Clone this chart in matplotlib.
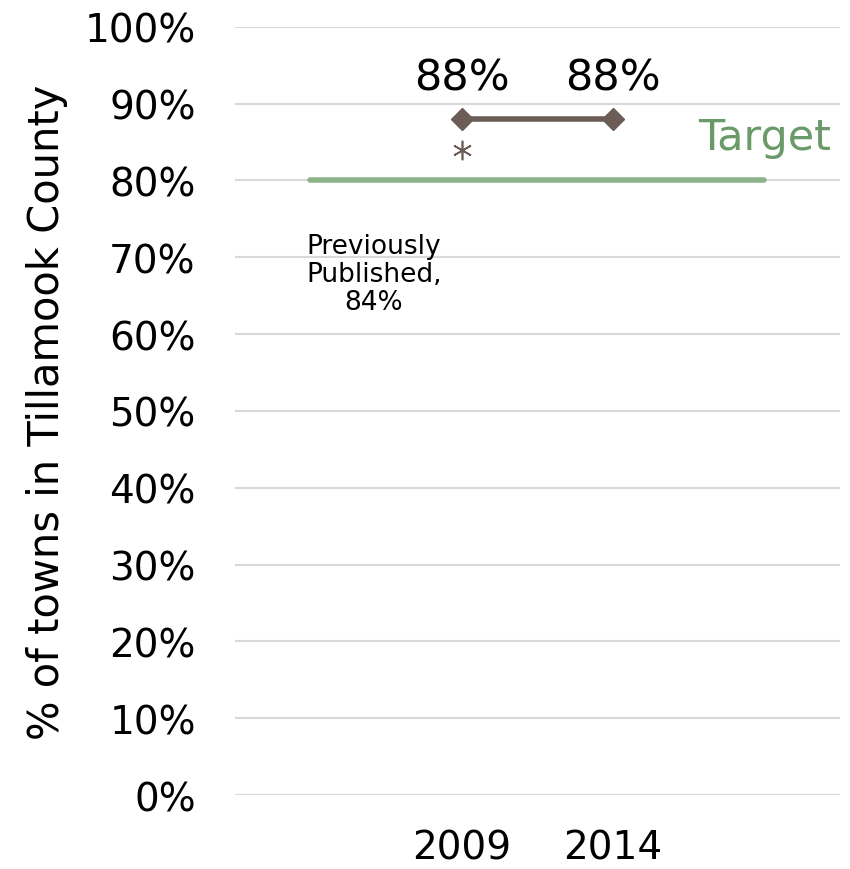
import matplotlib.pyplot as plt
import numpy as np

# Chart data
categories = ['', '2009', '2014', '']
values = [np.nan, 88, 88, np.nan]
previous = [np.nan, 84, np.nan, np.nan]
target = [80, 80, 80, 80]
value_labels = ['', '88%', '88%', '']
yticks = [0, 10, 20, 30, 40, 50, 60, 70, 80, 90, 100]

plt.rcParams['font.family'] = ['DejaVu Sans']

fig = plt.figure(figsize=(8.5, 8.7), dpi=100)
ax = fig.add_axes([0.276, 0.085, 0.712, 0.883])

x = np.arange(len(categories))

# gridlines
for t in yticks:
    ax.axhline(t, color='#d9d9d9', lw=1.5, zorder=0)

# target line
ax.plot(x, target, color='#8db38b', lw=4, solid_capstyle='round', zorder=2)
ax.text(x[-1] + 0.44, target[0] + 5.6, 'Target', color='#6a9a68',
        fontsize=31, ha='right', va='center')

# current values
ax.plot(x, values, color='#6b5d55', lw=4, marker='D', markersize=11, zorder=3)
for xi, v, lab in zip(x, values, value_labels):
    if lab:
        ax.text(xi, v + 5.4, lab, fontsize=31, ha='center', va='center')

# previously published
ax.plot(x, previous, linestyle='none', marker=(6, 2, 0), markersize=14,
        color='#6b5d55', mew=1.2, zorder=3)
ax.text(0.42, 67.8, 'Previously\nPublished,\n84%', fontsize=19,
        ha='center', va='center', linespacing=1.1)

ax.set_xlim(-0.5, 3.5)
ax.set_ylim(0, 100)
ax.set_xticks(x)
ax.set_xticklabels(categories, fontsize=28)
ax.set_yticks(yticks)
ax.set_yticklabels([f'{t}%' for t in yticks], fontsize=28)
ax.tick_params(length=0)
ax.tick_params(axis='x', pad=24)
ax.tick_params(axis='y', pad=28)
for s in ax.spines.values():
    s.set_visible(False)
ax.set_ylabel('% of towns in Tillamook County', fontsize=30, labelpad=12)

fig.savefig('out.png', dpi=100)
